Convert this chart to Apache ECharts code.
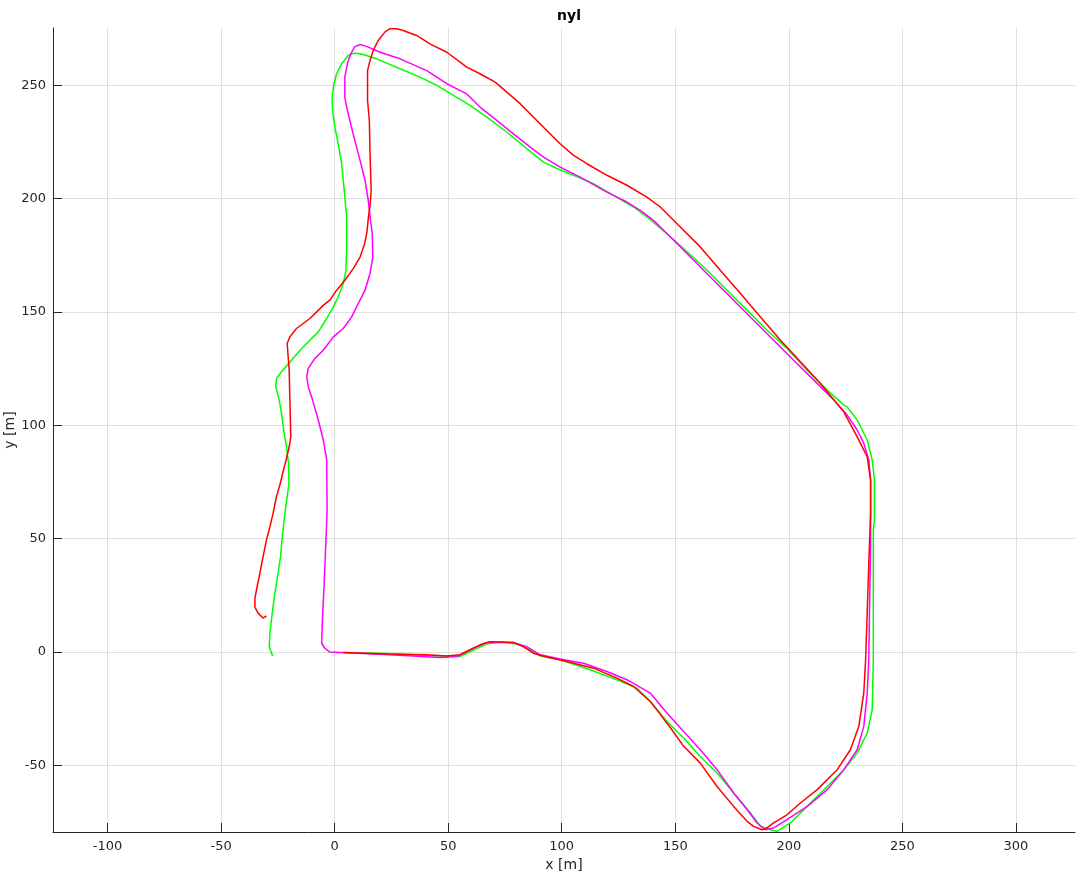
<!DOCTYPE html>
<html>
<head>
<meta charset="utf-8">
<script src="https://cdn.jsdelivr.net/npm/echarts@6/dist/echarts.min.js"></script>
<style>
html,body{margin:0;padding:0;background:#fff;}
#chart{width:1077px;height:874px;}
</style>
</head>
<body>
<div id="chart"></div>
<script>
const xTicks = [-100, -50, 0, 50, 100, 150, 200, 250, 300];
const yTicks = [-50, 0, 50, 100, 150, 200, 250];

const greenPath = [
[3.8,-0.3],[22.9,-0.7],[46.4,-1.8],[55.2,-2.1],[58.2,-0.6],[67.0,3.5],[72.9,4.5],[80.2,3.5],[86.1,0.9],[90.5,-1.8],
[99.3,-3.5],[112.5,-7.9],[124.3,-12.3],[133.1,-16.0],[139.0,-21.9],[146.3,-30.7],[153.7,-38.0],[161.0,-46.2],[168.4,-53.5],
[175.7,-62.3],[183.1,-71.1],[187.5,-77.0],[191.9,-78.5],[194.8,-79.2],[200.7,-75.5],[208.1,-68.2],[216.9,-59.4],[224.2,-52.0],
[230.1,-44.7],[234.5,-35.8],[236.7,-25.6],[237.2,-3.5],[237.2,17.1],[237.2,53.8],[237.7,58.2],[237.7,75.8],[236.7,84.7],
[234.5,93.5],[230.1,102.3],[225.7,108.1],[224.2,108.9],[216.9,115.5],[208.1,124.3],[199.2,133.9],[190.4,141.9],[181.6,150.8],
[172.8,159.6],[164.0,168.4],[155.2,176.5],[146.3,184.6],[137.5,191.9],[131.6,196.3],[122.8,201.4],[114.0,206.6],[105.2,210.3],
[97.9,213.3],[92.0,216.1],[84.6,222.1],[75.8,229.4],[67.0,236.0],[59.6,241.2],[52.3,245.6],[45.0,250.0],[37.6,253.6],
[28.8,257.3],[22.9,259.8],[18.5,261.7],[12.6,263.6],[8.9,264.3],[6.0,263.2],[3.1,259.5],[0.9,255.1],[-0.3,250.7],
[-1.1,244.8],[-0.9,238.9],[0.1,231.6],[1.6,224.2],[3.1,215.4],[4.1,205.1],[5.3,191.9],[5.3,177.2],[5.0,168.4],[3.8,162.5],
[1.6,156.6],[-0.6,152.2],[-3.5,147.1],[-7.2,141.2],[-10.9,137.5],[-14.5,133.9],[-19.0,128.7],[-23.4,123.6],[-25.6,120.6],
[-25.9,117.0],[-24.4,111.1],[-23.4,105.2],[-22.2,96.4],[-21.2,90.5],[-20.3,83.2],[-20.1,74.4],[-20.9,68.5],[-21.9,61.1],
[-22.9,52.3],[-23.8,42.0],[-24.9,34.7],[-26.3,25.9],[-27.3,18.5],[-28.5,8.2],[-28.8,2.3],[-27.3,-1.8]
];

const magentaPath = [
[-2.1,-0.1],[24.4,-1.3],[46.4,-2.5],[53.8,-2.1],[61.1,1.6],[67.0,4.1],[78.7,4.1],[84.6,2.3],[90.5,-1.3],[99.3,-3.2],
[109.6,-5.0],[119.9,-8.7],[128.7,-12.3],[139.0,-18.2],[146.3,-27.0],[153.7,-35.1],[161.0,-43.2],[168.4,-52.0],[175.7,-62.3],
[181.6,-69.6],[186.0,-75.5],[189.7,-78.5],[193.3,-77.7],[199.2,-74.0],[208.1,-68.2],[216.9,-60.8],[224.2,-52.0],[230.1,-43.2],
[233.0,-32.9],[234.5,-18.2],[235.2,-3.5],[235.5,17.1],[236.0,46.4],[236.0,75.8],[235.2,84.7],[233.0,92.0],[230.1,97.9],
[225.7,104.5],[219.8,111.1],[211.0,119.9],[202.1,128.7],[193.3,137.5],[184.5,146.3],[175.7,155.2],[166.9,164.0],[158.1,172.8],
[149.3,181.6],[140.4,190.4],[134.6,194.8],[128.7,198.5],[119.9,202.9],[108.1,209.5],[99.3,213.9],[92.0,218.3],[86.1,222.7],
[78.7,228.6],[71.4,234.5],[64.0,240.4],[58.2,246.2],[49.4,250.7],[40.6,256.5],[28.8,261.7],[20.0,264.6],[14.1,267.2],
[11.2,268.0],[8.9,267.1],[7.1,263.9],[5.6,259.5],[4.5,253.7],[4.5,244.8],[5.3,240.4],[6.7,234.5],[8.9,225.7],[11.2,216.9],
[13.4,208.1],[14.8,199.3],[15.8,190.4],[16.6,184.5],[16.8,174.2],[15.6,167.0],[13.4,159.6],[10.4,153.7],[7.5,147.8],
[3.8,142.7],[-0.6,139.0],[-5.0,133.1],[-8.7,129.5],[-11.6,125.1],[-12.3,121.4],[-11.6,117.0],[-9.7,111.1],[-7.2,102.3],
[-5.0,93.5],[-3.5,84.7],[-3.3,62.6],[-3.8,49.4],[-4.6,30.3],[-5.3,15.6],[-5.7,3.8],[-4.3,1.6],[-2.1,-0.1]
];

const redPath = [
[3.8,-0.3],[22.9,-0.9],[40.6,-1.3],[49.4,-1.8],[55.2,-1.3],[64.0,3.1],[68.5,4.5],[78.7,4.1],[83.1,2.3],[87.5,-0.6],
[93.4,-2.3],[102.3,-4.3],[114.0,-7.2],[124.3,-11.6],[131.6,-15.3],[139.0,-21.9],[141.9,-25.6],[148.5,-34.4],[153.7,-41.7],
[161.0,-49.1],[168.4,-59.4],[175.7,-68.2],[181.6,-74.8],[184.5,-77.0],[188.2,-78.5],[190.4,-77.7],[193.3,-75.5],[199.2,-71.9],
[205.1,-66.7],[212.5,-60.8],[221.3,-52.0],[227.1,-43.2],[230.8,-32.9],[233.0,-18.2],[233.8,-3.5],[234.5,17.1],[235.2,39.1],
[236.0,61.1],[236.0,75.8],[234.5,86.1],[230.1,94.9],[224.2,105.9],[213.9,118.4],[205.1,128.0],[196.3,137.5],[187.5,147.8],
[178.7,158.1],[169.8,168.4],[161.0,178.7],[152.2,187.5],[143.4,196.3],[137.5,200.7],[128.7,205.9],[119.9,210.3],[111.1,215.4],
[105.2,219.1],[99.3,224.2],[93.4,230.1],[87.5,236.0],[81.7,241.9],[75.8,247.0],[70.7,251.4],[64.0,255.1],[58.2,258.0],
[49.4,264.6],[42.0,268.3],[36.1,272.0],[30.2,274.2],[27.3,275.0],[24.4,275.0],[22.2,273.6],[19.2,269.8],[17.0,265.4],
[15.6,261.0],[14.5,256.5],[14.5,243.3],[15.3,234.5],[15.6,219.8],[16.1,203.6],[15.6,197.0],[14.8,191.0],[14.2,185.0],
[13.2,180.0],[11.2,174.2],[8.2,169.1],[4.5,164.0],[0.9,159.6],[-2.1,155.2],[-5.0,152.9],[-10.9,147.1],[-16.8,142.7],
[-19.7,139.0],[-20.9,136.1],[-20.0,124.3],[-19.7,111.1],[-19.3,94.9],[-20.0,90.5],[-21.2,85.4],[-22.7,79.5],[-24.1,73.6],
[-25.6,68.5],[-27.1,61.1],[-28.5,55.2],[-30.0,49.4],[-31.5,42.0],[-32.9,34.7],[-34.4,27.3],[-35.1,23.7],[-35.1,19.7],
[-33.7,17.1],[-31.5,14.9],[-30.0,15.9]
];

const txt = '#262626';
const font = 'DejaVu Sans, sans-serif';
const chart = echarts.init(document.getElementById('chart'), null, {renderer: 'canvas'});

function mkSeries(name, data, color) {
  return {
    name, type: 'line', data, showSymbol: false, symbol: 'none',
    lineStyle: {color, width: 1.5}, animation: false, clip: false,
    smooth: false
  };
}

chart.setOption({
  animation: false,
  backgroundColor: '#ffffff',
  title: {
    text: 'nyl', left: 564, top: 4, textAlign: 'center',
    textStyle: {fontFamily: font, fontSize: 14, fontWeight: 'bold', color: '#000'}
  },
  grid: {left: 53, right: 2, top: 28, bottom: 42, containLabel: false, outerBoundsMode: 'none'},
  xAxis: {
    type: 'value', min: -124, max: 326,
    name: 'x [m]', nameLocation: 'middle', nameGap: 26, nameMoveOverlap: false,
    nameTextStyle: {fontFamily: font, fontSize: 14, color: txt},
    axisLine: {show: true, onZero: false, lineStyle: {color: txt, width: 1}},
    axisTick: {show: true, inside: true, length: 9, customValues: xTicks, lineStyle: {color: txt}},
    axisLabel: {customValues: xTicks, fontFamily: font, fontSize: 13, color: txt, margin: 8},
    splitLine: {show: true, lineStyle: {color: '#dfdfdf', width: 1}}
  },
  yAxis: {
    type: 'value', min: -79.5, max: 275.3,
    name: 'y [m]', nameLocation: 'middle', nameGap: 36, nameMoveOverlap: false,
    nameTextStyle: {fontFamily: font, fontSize: 14, color: txt},
    axisLine: {show: true, onZero: false, lineStyle: {color: txt, width: 1}},
    axisTick: {show: true, inside: true, length: 9, customValues: yTicks, lineStyle: {color: txt}},
    axisLabel: {customValues: yTicks, fontFamily: font, fontSize: 13, color: txt, margin: 7},
    splitLine: {show: true, lineStyle: {color: '#dfdfdf', width: 1}}
  },
  series: [
    mkSeries('green', greenPath, '#00ff00'),
    mkSeries('magenta', magentaPath, '#ff00ff'),
    mkSeries('red', redPath, '#ff0000')
  ]
});
</script>
</body>
</html>
